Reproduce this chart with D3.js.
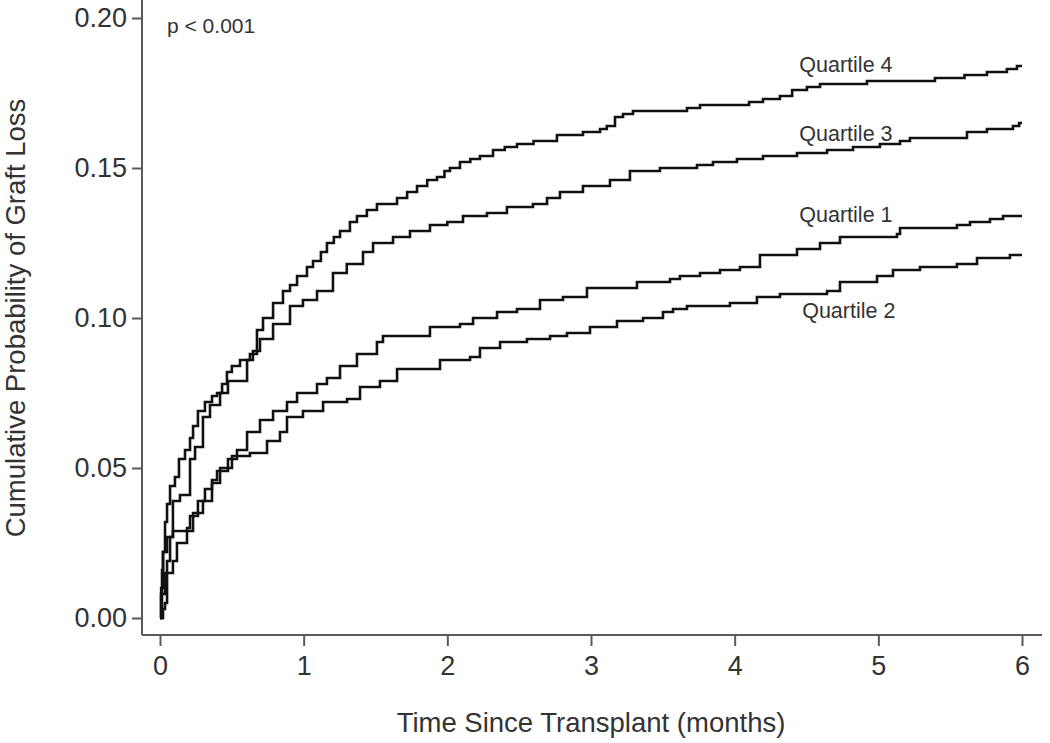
<!DOCTYPE html>
<html>
<head>
<meta charset="utf-8">
<script src="https://cdn.jsdelivr.net/npm/d3@7"></script>
<style>
	body { margin: 0; background: #fff; }
	text { font-family: "Liberation Sans", Arial, sans-serif; fill: #333; }
</style>
</head>
<body>
<div id="chartContent"></div>
<script>
// x ticks (months) and y ticks (probability)
var xTicks = [0, 1, 2, 3, 4, 5, 6];
var yTicks = [0, 0.05, 0.10, 0.15, 0.20];

// Kaplan-Meier style steps, [months, cumulative probability]
var quartile4 = [[0,0],[0.008,0.010],[0.021,0.022],[0.035,0.032],[0.049,0.038],[0.07,0.044],[0.104,0.047],[0.132,0.053],
	[0.174,0.056],[0.209,0.060],[0.23,0.064],[0.264,0.069],[0.313,0.072],[0.362,0.074],[0.397,0.075],[0.432,0.078],
	[0.466,0.082],[0.50,0.084],[0.557,0.086],[0.626,0.088],[0.675,0.096],[0.717,0.100],[0.787,0.105],[0.856,0.109],
	[0.905,0.111],[0.954,0.114],[1.023,0.117],[1.065,0.119],[1.12,0.122],[1.162,0.125],[1.21,0.127],[1.253,0.129],
	[1.322,0.132],[1.371,0.134],[1.44,0.136],[1.51,0.138],[1.65,0.140],[1.72,0.142],[1.789,0.144],[1.86,0.146],
	[1.928,0.147],[1.98,0.149],[2.018,0.150],[2.088,0.152],[2.16,0.153],[2.227,0.154],[2.318,0.156],[2.40,0.157],
	[2.485,0.158],[2.60,0.159],[2.763,0.161],[2.944,0.162],[3.063,0.163],[3.11,0.164],[3.167,0.167],[3.223,0.168],
	[3.292,0.169],[3.668,0.170],[3.759,0.171],[4.10,0.172],[4.197,0.173],[4.315,0.174],[4.40,0.176],[4.503,0.177],
	[4.594,0.178],[4.921,0.179],[5.394,0.180],[5.60,0.181],[5.756,0.182],[5.895,0.183],[5.965,0.184],[6.0,0.184]];

var quartile3 = [[0,0],[0.014,0.008],[0.035,0.015],[0.049,0.019],[0.07,0.027],[0.09,0.039],[0.139,0.041],[0.209,0.053],
	[0.244,0.057],[0.299,0.067],[0.348,0.071],[0.418,0.075],[0.473,0.079],[0.606,0.086],[0.647,0.089],[0.696,0.093],
	[0.787,0.098],[0.905,0.104],[0.995,0.106],[1.093,0.109],[1.204,0.115],[1.30,0.118],[1.413,0.122],[1.483,0.125],
	[1.622,0.127],[1.74,0.129],[1.879,0.131],[2.0,0.132],[2.109,0.134],[2.276,0.135],[2.415,0.137],[2.596,0.138],
	[2.694,0.140],[2.784,0.142],[2.944,0.144],[3.132,0.146],[3.271,0.149],[3.48,0.150],[3.738,0.151],[3.849,0.152],
	[4.016,0.153],[4.197,0.154],[4.434,0.155],[4.643,0.156],[4.824,0.157],[5.011,0.158],[5.151,0.159],[5.22,0.160],
	[5.617,0.162],[5.756,0.163],[5.937,0.164],[5.98,0.165],[6.0,0.165]];

var quartile1 = [[0,0],[0.007,0.008],[0.014,0.016],[0.021,0.022],[0.049,0.027],[0.09,0.029],[0.188,0.030],[0.209,0.034],
	[0.264,0.039],[0.313,0.043],[0.362,0.046],[0.397,0.049],[0.473,0.053],[0.536,0.056],[0.606,0.062],[0.696,0.066],
	[0.787,0.069],[0.884,0.072],[0.954,0.075],[1.093,0.078],[1.162,0.080],[1.253,0.084],[1.371,0.088],[1.51,0.092],
	[1.552,0.094],[1.879,0.097],[2.088,0.098],[2.179,0.100],[2.346,0.102],[2.485,0.103],[2.645,0.106],[2.805,0.107],
	[2.972,0.110],[3.32,0.112],[3.55,0.113],[3.619,0.114],[3.759,0.115],[3.898,0.116],[4.037,0.117],[4.176,0.121],
	[4.434,0.123],[4.594,0.125],[4.733,0.127],[5.13,0.128],[5.151,0.130],[5.547,0.131],[5.638,0.132],[5.777,0.133],
	[5.868,0.134],[6.0,0.134]];

var quartile2 = [[0,0],[0.021,0.003],[0.035,0.005],[0.049,0.015],[0.09,0.019],[0.118,0.025],[0.188,0.029],[0.23,0.035],
	[0.299,0.039],[0.362,0.045],[0.418,0.050],[0.501,0.054],[0.626,0.055],[0.745,0.059],[0.835,0.062],[0.884,0.067],
	[0.995,0.069],[1.135,0.072],[1.302,0.073],[1.392,0.077],[1.531,0.079],[1.65,0.083],[1.949,0.086],[2.158,0.087],
	[2.227,0.090],[2.367,0.092],[2.554,0.093],[2.715,0.094],[2.833,0.095],[2.993,0.097],[3.181,0.099],[3.362,0.100],
	[3.501,0.102],[3.571,0.103],[3.668,0.104],[3.967,0.105],[4.155,0.107],[4.315,0.108],[4.643,0.109],[4.733,0.112],
	[4.991,0.114],[5.102,0.116],[5.29,0.117],[5.547,0.118],[5.687,0.120],[5.916,0.121],[6.0,0.121]];

var seriesNames = ["Quartile 4", "Quartile 3", "Quartile 1", "Quartile 2"];
var seriesData = [quartile4, quartile3, quartile1, quartile2];
// label anchor: [months, probability] where each name sits
var labelPos = [[4.45, 0.182], [4.45, 0.159], [4.45, 0.132], [4.47, 0.100]];

var width = 1050, height = 743;

var svg = d3.select("#chartContent")
	.append("svg")
		.attr("width", width)
		.attr("height", height);

var x = d3.scaleLinear().domain([0, 6]).range([160, 1022]);
var y = d3.scaleLinear().domain([0, 0.2]).range([618, 18]);

var axisColor = "#5a5a5a";
var xAxisY = y(0) + 17;
var yAxisX = x(0) - 18;

// axis lines
svg.append("line")
	.attr("x1", yAxisX).attr("x2", yAxisX)
	.attr("y1", 0).attr("y2", xAxisY)
	.attr("stroke", axisColor).attr("stroke-width", 2);
svg.append("line")
	.attr("x1", yAxisX).attr("x2", x(6) + 20)
	.attr("y1", xAxisY).attr("y2", xAxisY)
	.attr("stroke", axisColor).attr("stroke-width", 2);

// y axis
var yAxis = svg.append("g")
	.attr("transform", "translate(" + yAxisX + ",0)")
	.call(d3.axisLeft(y).tickValues(yTicks).tickFormat(d3.format(".2f")).tickSize(10).tickPadding(5));
yAxis.select(".domain").remove();
yAxis.selectAll(".tick line").attr("stroke", axisColor).attr("stroke-width", 2);
yAxis.selectAll(".tick text")
	.attr("font-size", 27).attr("font-family", "Liberation Sans, Arial, sans-serif").attr("fill", "#333");

// x axis
var xAxis = svg.append("g")
	.attr("transform", "translate(0," + xAxisY + ")")
	.call(d3.axisBottom(x).tickValues(xTicks).tickFormat(d3.format("d")).tickSize(11).tickPadding(10));
xAxis.select(".domain").remove();
xAxis.selectAll(".tick line").attr("stroke", axisColor).attr("stroke-width", 2);
xAxis.selectAll(".tick text")
	.attr("font-size", 27).attr("font-family", "Liberation Sans, Arial, sans-serif").attr("fill", "#333");

// step curves
var line = d3.line()
	.x(function(d) { return x(d[0]); })
	.y(function(d) { return y(d[1]); })
	.curve(d3.curveStepAfter);

svg.selectAll(".km")
	.data(seriesData)
	.enter()
	.append("path")
		.attr("class", "km")
		.attr("d", line)
		.attr("fill", "none")
		.attr("stroke", "#111")
		.attr("stroke-width", 2.6);

// series labels
svg.selectAll(".qlabel")
	.data(seriesNames)
	.enter()
	.append("text")
		.attr("class", "qlabel")
		.attr("x", function(d, i) { return x(labelPos[i][0]); })
		.attr("y", function(d, i) { return y(labelPos[i][1]); })
		.attr("font-size", 21.5)
		.text(function(d) { return d; });

svg.append("text")
	.attr("x", 167).attr("y", 33)
	.attr("font-size", 21)
	.text("p < 0.001");

// axis titles
svg.append("text")
	.attr("x", 591).attr("y", 732)
	.attr("text-anchor", "middle")
	.attr("font-size", 27.5)
	.text("Time Since Transplant (months)");

svg.append("text")
	.attr("transform", "translate(25,318) rotate(-90)")
	.attr("text-anchor", "middle")
	.attr("font-size", 27.5)
	.text("Cumulative Probability of Graft Loss");
</script>
</body>
</html>
